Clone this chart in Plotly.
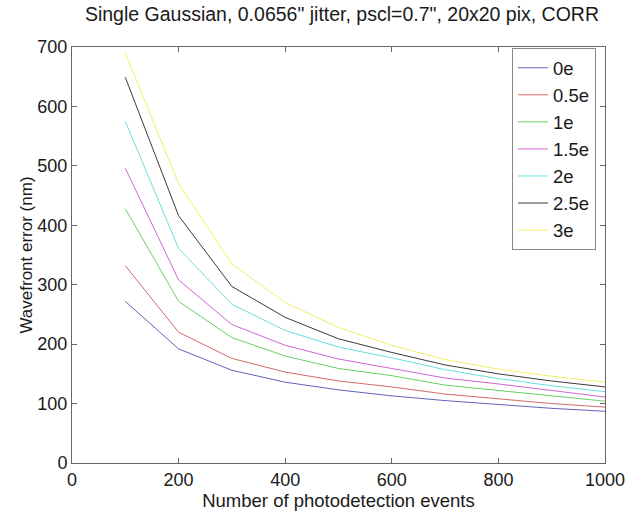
import plotly.graph_objects as go

x_events = [100, 200, 300, 400, 500, 600, 700, 800, 900, 1000]
names = ["0e", "0.5e", "1e", "1.5e", "2e", "2.5e", "3e"]
err_0e = [272, 192, 156, 136, 123, 113, 105, 98, 92, 87]
err_05e = [332, 220, 176, 153, 138, 128, 116, 108, 100, 94]
err_1e = [428, 272, 211, 180, 159, 147, 131, 122, 112, 104]
err_15e = [496, 308, 233, 198, 175, 159, 143, 133, 122, 111]
err_2e = [575, 361, 267, 223, 195, 177, 157, 142, 130, 120]
err_25e = [649, 416, 297, 245, 209, 186, 165, 150, 138, 128]
err_3e = [690, 470, 335, 270, 228, 198, 174, 158, 146, 136]
series = [err_0e, err_05e, err_1e, err_15e, err_2e, err_25e, err_3e]
colors = ["#6262bc", "#d46a6a", "#66d066", "#d066d0", "#66e0e0", "#3a3a3a", "#f0f066"]

fig = go.Figure()
for n, ys, c in zip(names, series, colors):
    fig.add_trace(go.Scatter(x=x_events, y=ys, mode="lines", name=n,
                             line=dict(color=c, width=1)))

axis_common = dict(showline=True, linecolor="#666666", linewidth=1, mirror="allticks",
                   ticks="inside", ticklen=5, tickcolor="#666666", showgrid=False,
                   zeroline=False, automargin=False,
                   tickfont=dict(size=18, color="#1a1a1a"))

fig.update_layout(
    width=626, height=512,
    margin=dict(l=72, r=21, t=47, b=49),
    paper_bgcolor="white", plot_bgcolor="white",
    font=dict(family="Liberation Sans, Arial, sans-serif", size=18, color="#1a1a1a"),
    title=dict(text="Single Gaussian, 0.0656\" jitter, pscl=0.7\", 20x20 pix, CORR",
               x=0.5463, xanchor="center", y=0.972, yanchor="middle",
               font=dict(size=19.5)),
    xaxis=dict(range=[0, 1000], tickvals=[0, 200, 400, 600, 800, 1000],
               title=dict(text="Number of photodetection events", standoff=0,
                          font=dict(size=18.5)), **axis_common),
    yaxis=dict(range=[0, 700], tickvals=[0, 100, 200, 300, 400, 500, 600, 700],
               title=dict(text="Wavefront error (nm)", standoff=0,
                          font=dict(size=17)), **axis_common),
    legend=dict(x=0.8255, y=0.997, xanchor="left", yanchor="top",
                bgcolor="white", bordercolor="#888888", borderwidth=1,
                font=dict(size=18.5), tracegroupgap=0),
    showlegend=True,
)

fig.write_html("out.html", config={"displayModeBar": False},
               post_script="document.body.style.margin='0px';")
